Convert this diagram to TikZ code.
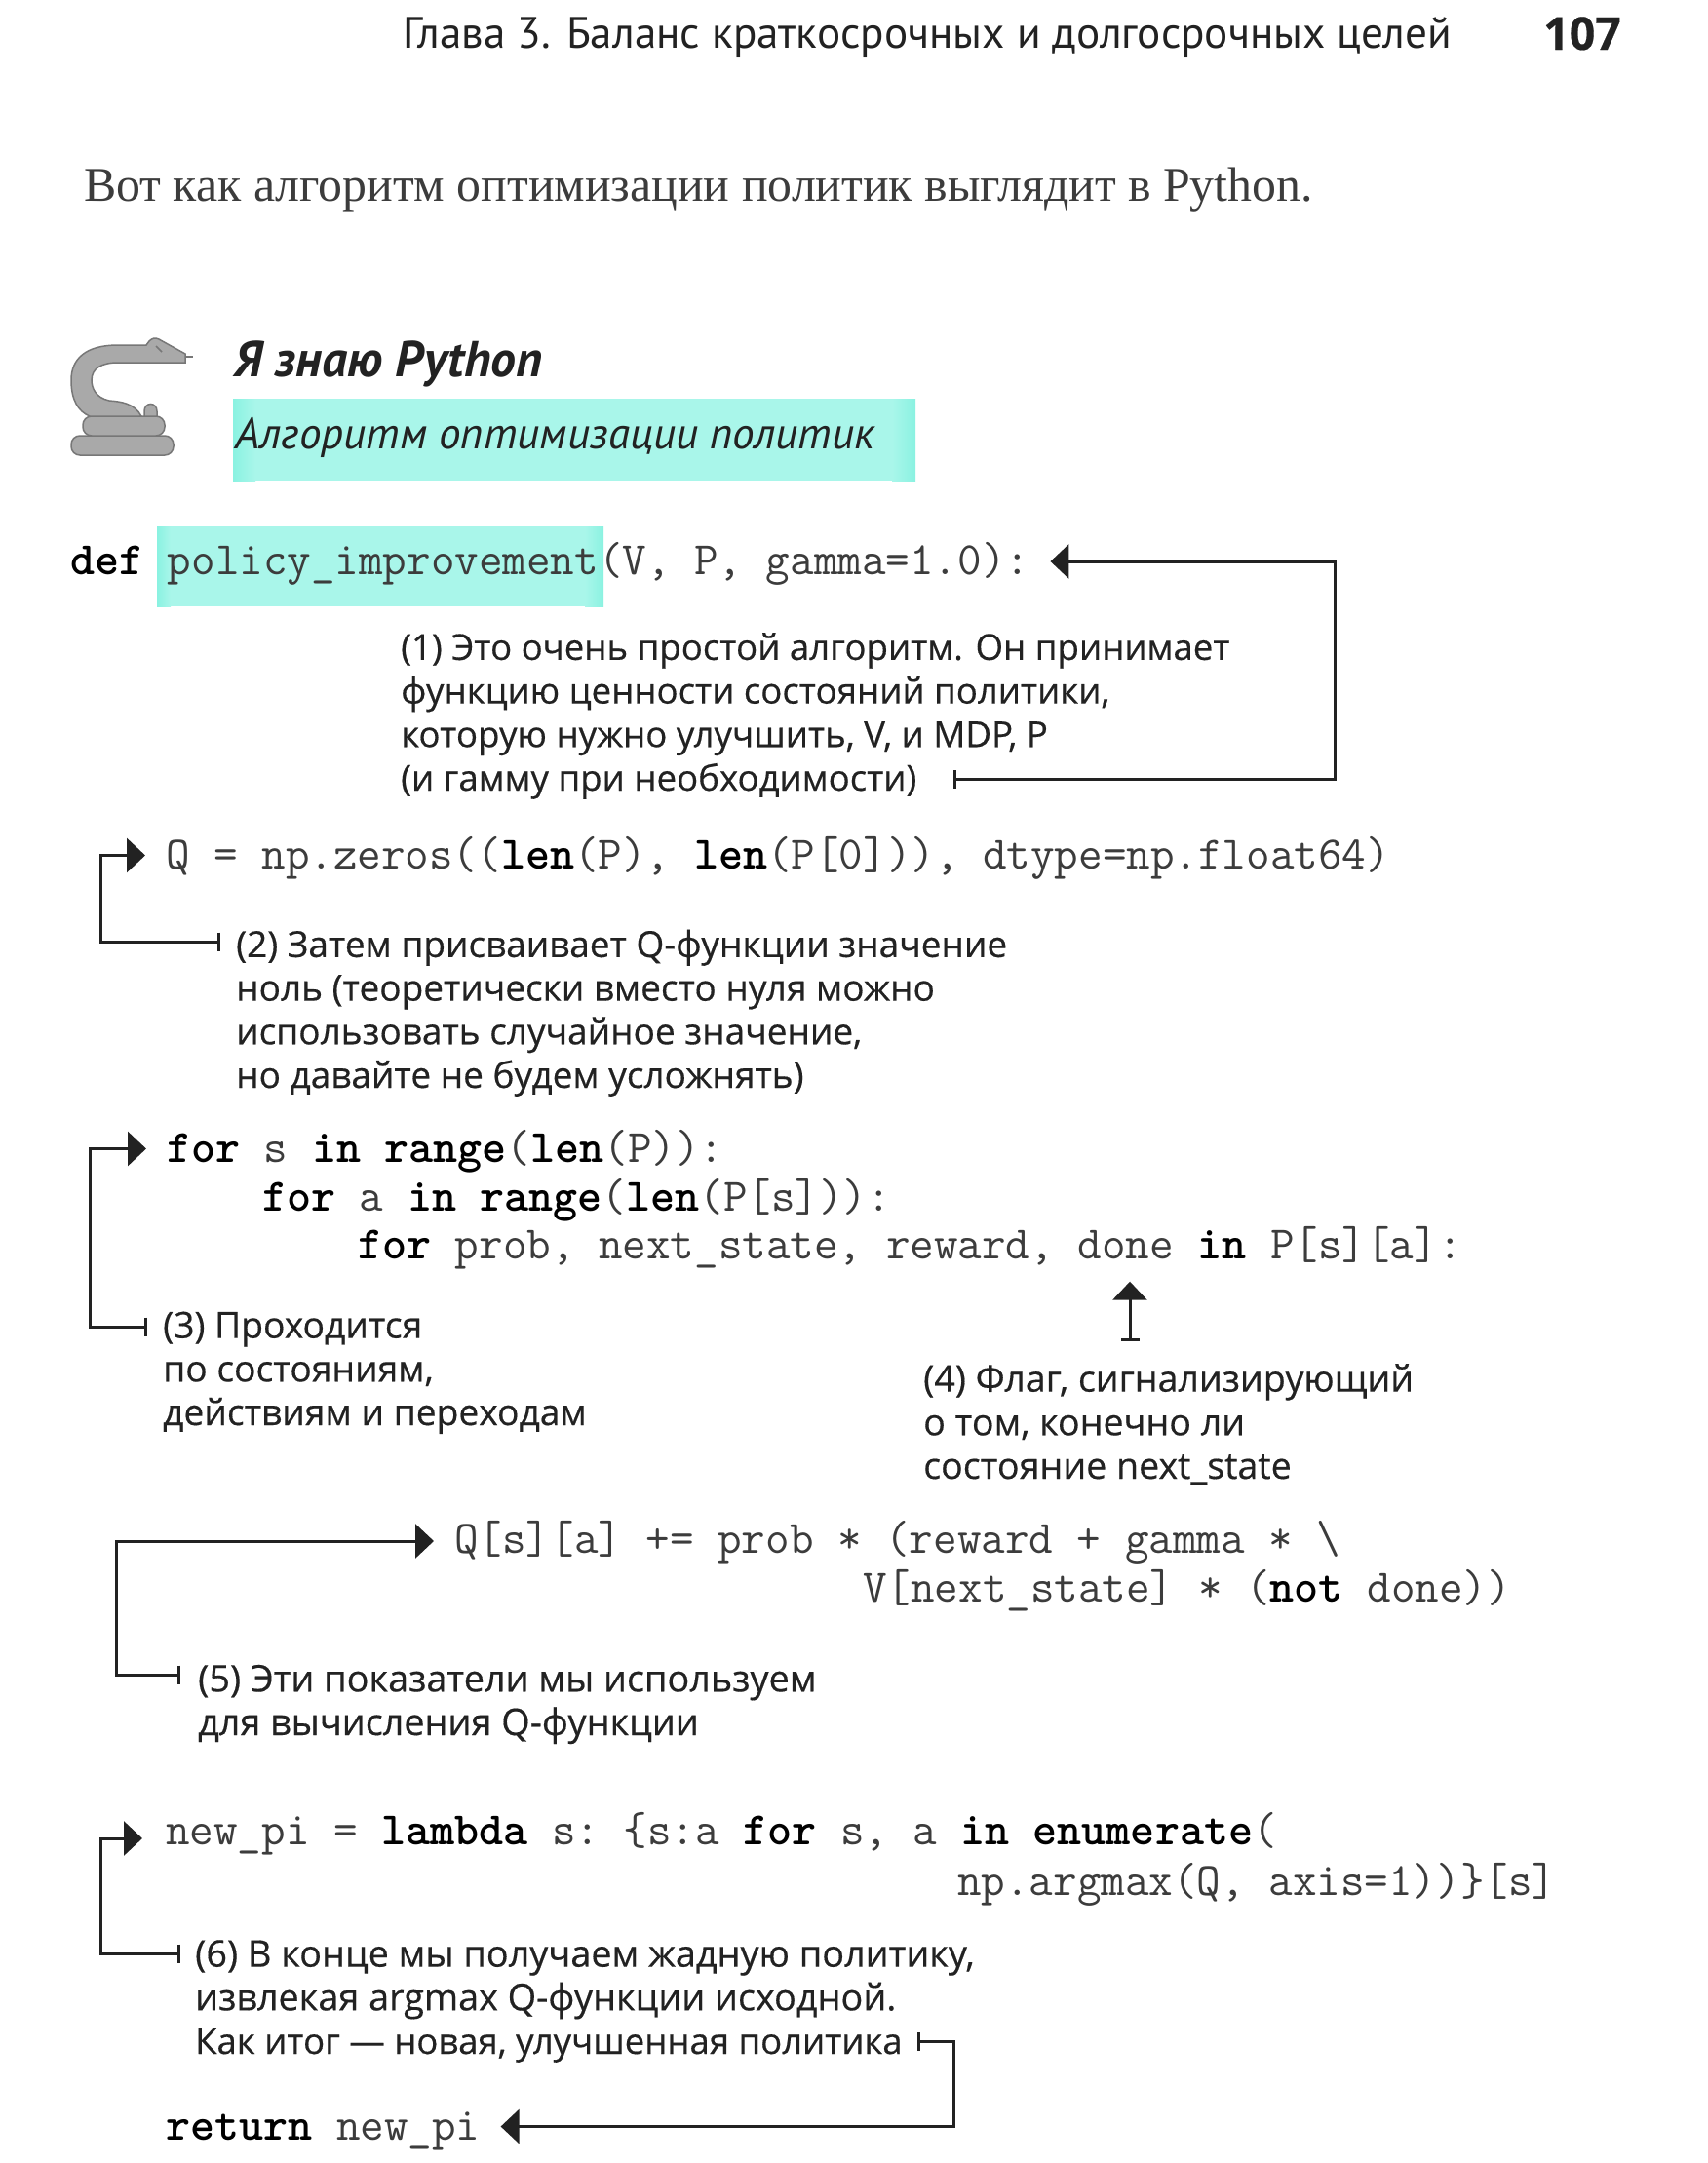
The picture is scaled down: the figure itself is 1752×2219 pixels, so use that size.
\documentclass[tikz,border=0pt]{standalone}
\usepackage{fontspec}
\usetikzlibrary{arrows.meta}
\setmainfont{Liberation Serif}
\newfontfamily\notefont[FakeBold=0.4]{Open Sans}
\newfontfamily\headfont{PT Sans}
\definecolor{ink}{HTML}{222222}
\definecolor{codeink}{HTML}{3C3C3C}
\definecolor{hl}{HTML}{A9F6EA}
\definecolor{hledge}{HTML}{8AF2E1}
\definecolor{snake}{HTML}{A9A9A9}
\definecolor{snakeline}{HTML}{777777}
\tikzset{
  codeline/.style={anchor=base west,inner xsep=21pt,inner ysep=0pt,text height=37pt,text depth=10pt,text=codeink,font=\fontsize{47.7}{50}\ttfamily\frenchspacing},
  note/.style={anchor=base west,inner sep=0pt,align=left,text=ink,font=\fontsize{#1}{44.7}\notefont\selectfont},
  callout/.style={draw=ink,line width=3pt,{Bar[width=19pt,length=3pt]}-{Triangle[length=19pt,width=35pt]}},
  snakepart/.style={fill=snake,draw=snakeline,line width=1.5pt},
}
\newcommand{\kw}[1]{\textbf{\color{black}#1}}
\begin{document}
\begin{tikzpicture}[x=1pt,y=-1pt]
\useasboundingbox (0,0) rectangle (1752,2219);
\fill[white] (0,0) rectangle (1752,2219);
% running head
\node[anchor=base west,inner sep=0pt,text=ink,font=\fontsize{45.2}{48}\headfont\selectfont] (runhead) at (413,49) {Глава 3. Баланс краткосрочных и долгосрочных целей};
\node[anchor=base west,inner sep=0pt,text=ink,font=\fontsize{46.5}{50}\notefont\bfseries\selectfont] (pagenum) at (1583,51) {107};
\node[anchor=base west,inner sep=0pt,text=codeink,font=\fontsize{49.8}{52}\selectfont] (intro) at (86,206) {Вот как алгоритм оптимизации политик выглядит в Python.};
% snake
\draw[snakeline,line width=1.5pt] (188,366) -- (198,366);
\path[snakepart,rounded corners=9pt] (73,447) rectangle (178,467);
\path[snakepart,rounded corners=9pt] (85,427) rectangle (169,447);
\path[snakepart] (148,427) -- (148,422) .. controls (148,412) and (161,412) .. (161,422) -- (161,427) -- cycle;
\path[snakepart] (145,427) .. controls (138,414) and (125,412) .. (112,411) .. controls (98,408) and (94,398) .. (94,390)
  .. controls (94,378) and (104,372) .. (121,372) -- (190,372) -- (190,363) -- (163,348) .. controls (159,346) and (156,347) .. (153,350) -- (150,354) -- (121,354)
  .. controls (88,354) and (73,368) .. (73,390) .. controls (73,410) and (80,422) .. (92,427) -- cycle;
\draw[snakeline,line width=1.5pt] (160,355) -- (166,361);
% heading
\node[anchor=base west,inner sep=0pt,text=ink,font=\fontsize{51.8}{54}\headfont\bfseries\itshape\selectfont] (title) at (240,386) {Я знаю Python};
\fill[hl] (239,409) rectangle (939,493);
\shade[left color=hledge,right color=hl] (239,409) rectangle (262,493);
\shade[left color=hl,right color=hledge] (915,409) rectangle (939,493);
\node[anchor=base west,inner sep=0pt,text=ink,font=\fontsize{45.2}{48}\headfont\itshape\selectfont] (subtitle) at (241,460) {Алгоритм оптимизации политик};
\fill[hl] (161,540) rectangle (619,622);
\shade[left color=hledge,right color=hl] (161,540) rectangle (175,622);
\shade[left color=hl,right color=hledge] (600,540) rectangle (619,622);
% code
\node[codeline] (code1) at (51,589.5) {\kw{def} policy\_improvement(V, P, gamma=1.0):};
\node[codeline] (code2) at (149,891) {Q = np.zeros((\kw{len}(P), \kw{len}(P[0])), dtype=np.float64)};
\node[codeline] (code3) at (150,1192) {\kw{for} s \kw{in} \kw{range}(\kw{len}(P)):};
\node[codeline] (code3b) at (248,1242) {\kw{for} a \kw{in} \kw{range}(\kw{len}(P[s])):};
\node[codeline] (code3c) at (346,1291) {\kw{for} prob, next\_state, reward, done \kw{in} P[s][a]:};
\node[codeline] (code5) at (445,1593) {Q[s][a] += prob * (reward + gamma * \textbackslash};
\node[codeline] (code5b) at (864,1643) {V[next\_state] * (\kw{not} done))};
\node[codeline] (code6) at (149,1892.5) {new\_pi = \kw{lambda} s: \{s:a \kw{for} s, a \kw{in} \kw{enumerate}(};
\node[codeline] (code6b) at (961,1944) {np.argmax(Q, axis=1))\}[s]};
\node[codeline] (code7) at (149,2195) {\kw{return} new\_pi};
% notes
\node[note=36.6] (note1) at (411,811) {(1) Это очень простой алгоритм. Он принимает\\функцию ценности состояний политики,\\которую нужно улучшить, V, и MDP, P\\(и гамму при необходимости)};
\node[note=37] (note2) at (242,1116) {(2) Затем присваивает Q-функции значение\\ноль (теоретически вместо нуля можно\\использовать случайное значение,\\но давайте не будем усложнять)};
\node[note=37.2] (note3) at (167,1462) {(3) Проходится\\по состояниям,\\действиям и переходам};
\node[note=37.6] (note4) at (947,1517) {(4) Флаг, сигнализирующий\\о том, конечно ли\\состояние next\_state};
\node[note=37.8] (note5) at (203,1780) {(5) Эти показатели мы используем\\для вычисления Q-функции};
\node[note=37.8] (note6) at (200,2107) {(6) В конце мы получаем жадную политику,\\извлекая argmax Q-функции исходной.\\{\fontsize{36.5}{44.7}\selectfont Как итог — новая, улучшенная политика}};
% connectors
\draw[callout] ([shift={(567,-12)}]note1.base west) -| (1369,0 |- code1.east) -- (code1.east);
\draw[callout] ([shift={(-16,-150)}]note2.base west) -| (103,0 |- code2.west) -- (code2.west);
\draw[callout] ([shift={(-16,-101)}]note3.base west) -| (92,0 |- code3.west) -- (code3.west);
\draw[callout] ([shift={(212,-141)}]note4.base west) -- ([shift={(813,13.5)}]code3c.south west);
\draw[callout] ([shift={(-18,-62)}]note5.base west) -| (119,1581) -- ([yshift=-1.5]code5.west);
\draw[callout] ([shift={(-15,-103)}]note6.base west) -| (103,1886) -- ([shift={(-3,0)}]103,1886 -| code6.west);
\draw[callout] ([shift={(741,-13)}]note6.base west) -| (978,0 |- code7.east) -- (code7.east);
\end{tikzpicture}
\end{document}
